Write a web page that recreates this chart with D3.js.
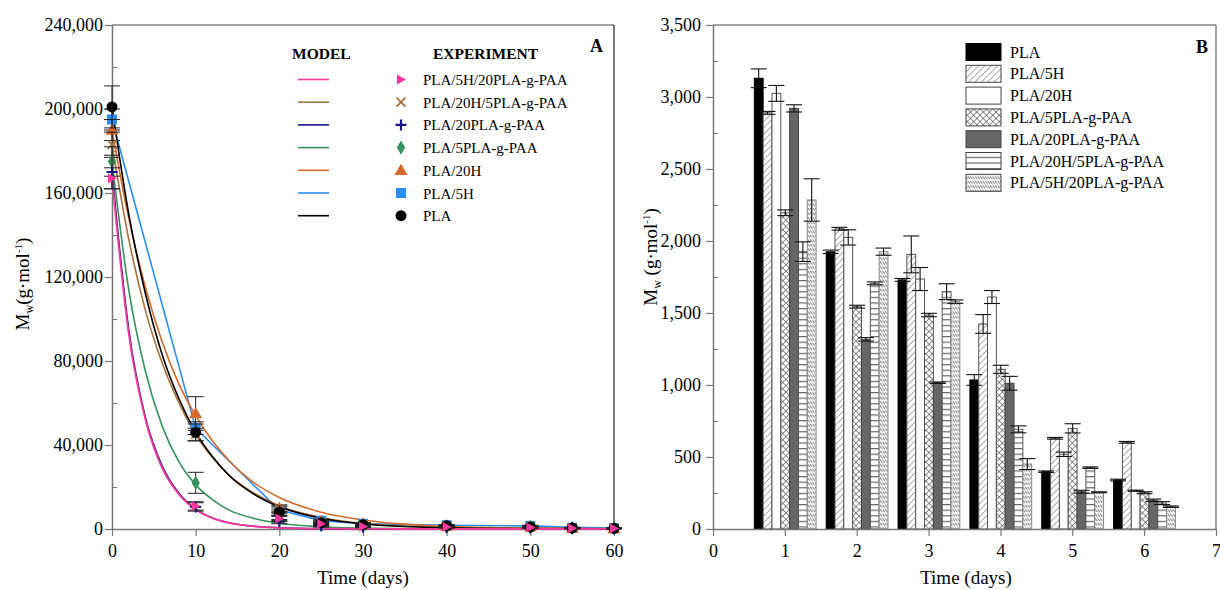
<!DOCTYPE html>
<html><head><meta charset="utf-8">
<script src="https://cdn.jsdelivr.net/npm/d3@7"></script>
<style>
body{margin:0;background:#fff;}
svg{font-family:"Liberation Serif","Times New Roman",serif;}
</style>
</head><body>
<svg id="c" width="1220" height="590"></svg>
<script>
// ================= Panel A data =================
const daysA = [0, 10, 20, 25, 30, 40, 50, 55, 60];
const xTicksA = [0, 10, 20, 30, 40, 50, 60];
const yTicksA = [0, 40000, 80000, 120000, 160000, 200000, 240000];
const yMinorA = [20000, 60000, 100000, 140000, 180000, 220000];

const expPLA      = [201000, 46000, 8000, 3000, 2000, 1500, 1000, 500, 300];
const errPLA      = [10000, 4000, 1500, 800, 500, 300, 300, 200, 100];
const exp5H       = [195000, 48000, 9000, 4000, 2500, 1800, 1500, 600, 400];
const err5H       = [5000, 3000, 1500, 800, 500, 300, 300, 200, 100];
const exp20H      = [190000, 55000, 10000, 3500, 2500, 1500, 1200, 500, 300];
const err20H      = [5000, 8000, 1500, 800, 500, 300, 300, 200, 100];
const exp5PLA     = [175000, 22000, 5000, 2000, 1500, 1000, 800, 400, 200];
const err5PLA     = [7000, 5000, 1000, 600, 400, 300, 300, 200, 100];
const exp20PLA    = [170000, 10500, 3500, 1500, 1000, 800, 600, 300, 200];
const err20PLA    = [8000, 2000, 1000, 600, 400, 300, 300, 200, 100];
const exp20H5PLA  = [183000, 45000, 9500, 3000, 2000, 1500, 1000, 500, 300];
const err20H5PLA  = [6000, 3000, 1500, 800, 500, 300, 300, 200, 100];
const exp5H20PLA  = [167000, 11000, 5000, 2500, 1200, 900, 700, 400, 200];
const err5H20PLA  = [5000, 2000, 1500, 800, 400, 300, 300, 200, 100];

// model curves
const modelDays      = [0, 2, 4, 6, 8, 10, 12, 14, 17, 20, 25, 30, 35, 40, 50, 60];
const modelPLA       = [201000, 150000, 112000, 83000, 62000, 46000, 34500, 25500, 16500, 10600, 5100, 2400, 1200, 600, 200, 100];
const model20H       = [190000, 148000, 115000, 89000, 69000, 54000, 42000, 32500, 22000, 15000, 8000, 4300, 2300, 1300, 400, 150];
const model20H5PLA   = [183000, 138000, 104000, 79000, 60000, 45000, 34000, 25500, 17000, 11000, 5500, 2700, 1300, 700, 200, 100];
const model5PLA      = [175000, 114000, 75000, 49000, 32000, 21000, 14000, 9000, 5000, 2700, 1000, 400, 200, 100, 50, 0];
const model20PLA     = [170000, 95000, 53000, 30000, 17000, 9500, 5300, 3000, 1300, 600, 150, 50, 0, 0, 0, 0];
const model5H20PLA   = [167000, 93000, 52000, 29000, 16500, 9300, 5200, 2900, 1250, 550, 150, 50, 0, 0, 0, 0];
const model5HDays    = [0, 10, 20, 25, 30, 40, 50, 55, 60];
const model5H        = [195000, 48000, 9000, 4000, 2500, 1800, 1500, 800, 400];

// ================= Panel B data =================
const daysB = [1, 2, 3, 4, 5, 6];
const xTicksB = [0, 1, 2, 3, 4, 5, 6, 7];
const yTicksB = [0, 500, 1000, 1500, 2000, 2500, 3000, 3500];
const yMinorB = [250, 750, 1250, 1750, 2250, 2750, 3250];
const seriesB = ["PLA", "PLA/5H", "PLA/20H", "PLA/5PLA-g-PAA", "PLA/20PLA-g-PAA", "PLA/20H/5PLA-g-PAA", "PLA/5H/20PLA-g-PAA"];
const barPLA      = [3130, 1925, 1730, 1035, 398, 340];
const barErrPLA   = [65, 12, 10, 37, 5, 6];
const bar5H       = [2890, 2085, 1907, 1424, 630, 602];
const barErr5H    = [10, 10, 128, 65, 6, 6];
const bar20H      = [3025, 2025, 1736, 1611, 519, 266];
const barErr20H   = [55, 53, 80, 45, 15, 4];
const bar5PLA     = [2196, 1544, 1486, 1109, 699, 252];
const barErr5PLA  = [20, 10, 12, 28, 32, 7];
const bar20PLA    = [2921, 1317, 1016, 1012, 259, 200];
const barErr20PLA = [25, 12, 5, 48, 10, 8];
const bar20H5PLA  = [1926, 1706, 1648, 692, 426, 180];
const barErr20H5PLA = [68, 10, 55, 24, 5, 10];
const bar5H20PLA  = [2285, 1926, 1579, 451, 255, 155];
const barErr5H20PLA = [147, 25, 12, 38, 3, 5];

// ================= drawing =================
const svg = d3.select("#c");
const FONT = "'Liberation Serif','Times New Roman',serif";
const axisCol = "#777";

const defs = svg.append("defs");
function pat(id, w, h, rot, draw) {
  const p = defs.append("pattern").attr("id", id).attr("patternUnits", "userSpaceOnUse")
    .attr("width", w).attr("height", h);
  if (rot) p.attr("patternTransform", `rotate(${rot})`);
  p.append("rect").attr("width", w).attr("height", h).attr("fill", "#fff");
  draw(p);
}
pat("hatch", 4.5, 4.5, 45, p => p.append("line").attr("x1", 0).attr("y1", 0).attr("x2", 0).attr("y2", 4.5).attr("stroke", "#666").attr("stroke-width", 1.1));
pat("cross", 4.5, 4.5, 45, p => {
  p.append("line").attr("x1", 0).attr("y1", 0).attr("x2", 0).attr("y2", 4.5).attr("stroke", "#555").attr("stroke-width", 1.3);
  p.append("line").attr("x1", 0).attr("y1", 0).attr("x2", 4.5).attr("y2", 0).attr("stroke", "#555").attr("stroke-width", 1.3);
});
pat("horiz", 4, 5.6, 0, p => p.append("line").attr("x1", 0).attr("y1", 0.6).attr("x2", 4).attr("y2", 0.6).attr("stroke", "#666").attr("stroke-width", 1.2));
pat("wavy", 5, 4.5, 0, p => p.append("path").attr("d", "M0,1 C1,1 1.5,3.5 2.5,3.5 M2.5,1 C3.5,1 4,3.5 5,3.5").attr("fill", "none").attr("stroke", "#777").attr("stroke-width", 1));

const styleB = {
  "PLA": {fill: "#000", stroke: "#000"},
  "PLA/5H": {fill: "url(#hatch)", stroke: "#555"},
  "PLA/20H": {fill: "#fff", stroke: "#555"},
  "PLA/5PLA-g-PAA": {fill: "url(#cross)", stroke: "#555"},
  "PLA/20PLA-g-PAA": {fill: "#666", stroke: "#444"},
  "PLA/20H/5PLA-g-PAA": {fill: "url(#horiz)", stroke: "#555"},
  "PLA/5H/20PLA-g-PAA": {fill: "url(#wavy)", stroke: "#888"}
};

// ---------- Panel A ----------
const xA = d3.scaleLinear().domain([0, 60]).range([112, 614]);
const yA = d3.scaleLinear().domain([0, 240000]).range([529, 25]);

function styleAxis(g) {
  g.select(".domain").attr("stroke", axisCol).attr("stroke-width", 1.5);
  g.selectAll(".tick line").attr("stroke", axisCol).attr("stroke-width", 1.2);
  g.selectAll(".tick text").attr("fill", "#000").attr("font-size", 18).attr("font-family", FONT);
}

// frame
svg.append("line").attr("x1", xA(0)).attr("x2", xA(60)).attr("y1", yA(240000)).attr("y2", yA(240000)).attr("stroke", "#444").attr("stroke-width", 1);
svg.append("line").attr("x1", xA(60)).attr("x2", xA(60)).attr("y1", yA(240000)).attr("y2", yA(0)).attr("stroke", "#222").attr("stroke-width", 1.2);

const gAy = svg.append("g").attr("transform", `translate(${xA(0)},0)`)
  .call(d3.axisLeft(yA).tickValues(yTicksA).tickFormat(d3.format(",")).tickSize(7).tickSizeOuter(0).tickPadding(2));
styleAxis(gAy);
const gAym = svg.append("g").attr("transform", `translate(${xA(0)},0)`)
  .call(d3.axisRight(yA).tickValues(yMinorA).tickFormat("").tickSize(5).tickSizeOuter(0));
gAym.select(".domain").remove(); gAym.selectAll("line").attr("stroke", axisCol);
const gAx = svg.append("g").attr("transform", `translate(0,${yA(0)})`)
  .call(d3.axisBottom(xA).tickValues(xTicksA).tickFormat(d3.format("d")).tickSize(7).tickSizeOuter(0).tickPadding(8));
styleAxis(gAx);

const colors = {
  "PLA/5H/20PLA-g-PAA": "#f5399a",
  "PLA/20H/5PLA-g-PAA": "#a8703e",
  "PLA/20PLA-g-PAA": "#16168c",
  "PLA/5PLA-g-PAA": "#33925e",
  "PLA/20H": "#d46a2c",
  "PLA/5H": "#2a8df2",
  "PLA": "#000"
};
const seriesA = [
  {name: "PLA/5H", exp: exp5H, err: err5H, mx: model5HDays, my: model5H, sym: "square"},
  {name: "PLA/20H", exp: exp20H, err: err20H, mx: modelDays, my: model20H, sym: "tri"},
  {name: "PLA/20H/5PLA-g-PAA", exp: exp20H5PLA, err: err20H5PLA, mx: modelDays, my: model20H5PLA, sym: "x"},
  {name: "PLA/5PLA-g-PAA", exp: exp5PLA, err: err5PLA, mx: modelDays, my: model5PLA, sym: "diamond"},
  {name: "PLA/20PLA-g-PAA", exp: exp20PLA, err: err20PLA, mx: modelDays, my: model20PLA, sym: "plus"},
  {name: "PLA", exp: expPLA, err: errPLA, mx: modelDays, my: modelPLA, sym: "circle"},
  {name: "PLA/5H/20PLA-g-PAA", exp: exp5H20PLA, err: err5H20PLA, mx: modelDays, my: model5H20PLA, sym: "rtri"}
];

function drawSym(g, sym, x, y, col) {
  switch (sym) {
    case "square": g.append("rect").attr("x", x - 5).attr("y", y - 5).attr("width", 10).attr("height", 10).attr("fill", col); break;
    case "circle": g.append("circle").attr("cx", x).attr("cy", y).attr("r", 5.5).attr("fill", col); break;
    case "tri": g.append("path").attr("d", d3.symbol(d3.symbolTriangle, 75)()).attr("transform", `translate(${x},${y + 1})`).attr("fill", col); break;
    case "diamond": g.append("path").attr("d", d3.symbol(d3.symbolDiamond, 60)()).attr("transform", `translate(${x},${y})`).attr("fill", col); break;
    case "rtri": g.append("path").attr("d", "M-4,-5L5,0L-4,5Z").attr("transform", `translate(${x},${y})`).attr("fill", col); break;
    case "plus": g.append("path").attr("d", "M-5.5,0H5.5M0,-5.5V5.5").attr("transform", `translate(${x},${y})`).attr("stroke", col).attr("stroke-width", 2.2).attr("fill", "none"); break;
    case "x": g.append("path").attr("d", "M-4.5,-4.5L4.5,4.5M-4.5,4.5L4.5,-4.5").attr("transform", `translate(${x},${y})`).attr("stroke", col).attr("stroke-width", 1.7).attr("fill", "none"); break;
  }
}

const plotA = svg.append("g");
// model lines
const lineOrder = ["PLA/5H", "PLA/20H", "PLA/5PLA-g-PAA", "PLA/20PLA-g-PAA", "PLA/20H/5PLA-g-PAA", "PLA", "PLA/5H/20PLA-g-PAA"];
lineOrder.forEach(n => {
  const s = seriesA.find(d => d.name === n);
  const pts = s.mx.map((d, i) => [d, s.my[i]]);
  const line = d3.line().x(d => xA(d[0])).y(d => yA(d[1]))
    .curve(n === "PLA/5H" ? d3.curveLinear : d3.curveMonotoneX);
  plotA.append("path").attr("d", line(pts)).attr("fill", "none").attr("stroke", colors[n])
    .attr("stroke-width", n === "PLA/5H/20PLA-g-PAA" ? 1.8 : 1.6);
});
// markers + error bars
seriesA.forEach(s => {
  const g = plotA.append("g");
  daysA.forEach((d, i) => {
    const x = xA(d), v = s.exp[i], e = s.err[i];
    const y1 = yA(v + e), y2 = yA(Math.max(0, v - e));
    g.append("line").attr("x1", x).attr("x2", x).attr("y1", y1).attr("y2", y2).attr("stroke", "#222").attr("stroke-width", 1);
    g.append("line").attr("x1", x - 8).attr("x2", x + 8).attr("y1", y1).attr("y2", y1).attr("stroke", "#222").attr("stroke-width", 1);
    g.append("line").attr("x1", x - 8).attr("x2", x + 8).attr("y1", y2).attr("y2", y2).attr("stroke", "#222").attr("stroke-width", 1);
    drawSym(g, s.sym, x, yA(v), colors[s.name]);
  });
});

// legend A
svg.append("text").attr("x", 292).attr("y", 59).attr("font-size", 15.5).attr("font-weight", "bold").text("MODEL");
svg.append("text").attr("x", 433).attr("y", 59).attr("font-size", 15.5).attr("font-weight", "bold").text("EXPERIMENT");
svg.append("text").attr("x", 590).attr("y", 52).attr("font-size", 18).attr("font-weight", "bold").text("A");
const legendA = ["PLA/5H/20PLA-g-PAA", "PLA/20H/5PLA-g-PAA", "PLA/20PLA-g-PAA", "PLA/5PLA-g-PAA", "PLA/20H", "PLA/5H", "PLA"];
legendA.forEach((n, i) => {
  const y = 79.5 + i * 22.7;
  const s = seriesA.find(d => d.name === n);
  svg.append("line").attr("x1", 298).attr("x2", 329).attr("y1", y).attr("y2", y).attr("stroke", colors[n]).attr("stroke-width", 1.6);
  drawSym(svg, s.sym, 401, y, colors[n]);
  svg.append("text").attr("x", 423).attr("y", y + 5.5).attr("font-size", 15).text(n);
});

// axis titles A
function mwTitle(x, y, spaced) {
  const t = svg.append("text").attr("transform", `translate(${x},${y}) rotate(-90)`).attr("text-anchor", "middle").attr("font-size", 19);
  t.append("tspan").text("M");
  t.append("tspan").attr("font-size", 12).attr("dy", 4).text("w");
  t.append("tspan").attr("dy", -4).text((spaced ? " " : "") + "(g·mol");
  t.append("tspan").attr("font-size", 11).attr("dy", -7).text("-1");
  t.append("tspan").attr("dy", 7).text(")");
}
mwTitle(29, 284, false);
svg.append("text").attr("x", 363).attr("y", 584).attr("text-anchor", "middle").attr("font-size", 19).text("Time (days)");

// ---------- Panel B ----------
const xB = d3.scaleLinear().domain([0, 7]).range([713, 1216]);
const yB = d3.scaleLinear().domain([0, 3500]).range([529, 25]);

svg.append("line").attr("x1", xB(0)).attr("x2", xB(7)).attr("y1", yB(3500)).attr("y2", yB(3500)).attr("stroke", "#444").attr("stroke-width", 1);
svg.append("line").attr("x1", xB(7)).attr("x2", xB(7)).attr("y1", yB(3500)).attr("y2", yB(0)).attr("stroke", "#444").attr("stroke-width", 1);

const barData = {
  "PLA": [barPLA, barErrPLA],
  "PLA/5H": [bar5H, barErr5H],
  "PLA/20H": [bar20H, barErr20H],
  "PLA/5PLA-g-PAA": [bar5PLA, barErr5PLA],
  "PLA/20PLA-g-PAA": [bar20PLA, barErr20PLA],
  "PLA/20H/5PLA-g-PAA": [bar20H5PLA, barErr20H5PLA],
  "PLA/5H/20PLA-g-PAA": [bar5H20PLA, barErr5H20PLA]
};
const inner = d3.scaleBand().domain(seriesB).range([-0.425, 0.435]).padding(0);
const plotB = svg.append("g");
const errB = svg.append("g");
daysB.forEach((day, i) => {
  seriesB.forEach(n => {
    const [vals, errs] = barData[n];
    const x0 = xB(day + inner(n)), x1 = xB(day + inner(n) + inner.bandwidth());
    const v = vals[i], e = errs[i];
    plotB.append("rect").attr("x", x0).attr("y", yB(v)).attr("width", x1 - x0).attr("height", yB(0) - yB(v))
      .attr("fill", styleB[n].fill).attr("stroke", styleB[n].stroke).attr("stroke-width", 1);
    const cx = (x0 + x1) / 2, ya = yB(v + e), yb = yB(v - e);
    errB.append("line").attr("x1", cx).attr("x2", cx).attr("y1", ya).attr("y2", yb).attr("stroke", "#111").attr("stroke-width", 1.1);
    errB.append("line").attr("x1", cx - 8).attr("x2", cx + 8).attr("y1", ya).attr("y2", ya).attr("stroke", "#111").attr("stroke-width", 1.1);
    errB.append("line").attr("x1", cx - 8).attr("x2", cx + 8).attr("y1", yb).attr("y2", yb).attr("stroke", "#111").attr("stroke-width", 1.1);
  });
});

const gBy = svg.append("g").attr("transform", `translate(${xB(0)},0)`)
  .call(d3.axisLeft(yB).tickValues(yTicksB).tickFormat(d3.format(",")).tickSize(7).tickSizeOuter(0).tickPadding(5));
styleAxis(gBy);
const gBym = svg.append("g").attr("transform", `translate(${xB(0)},0)`)
  .call(d3.axisRight(yB).tickValues(yMinorB).tickFormat("").tickSize(5).tickSizeOuter(0));
gBym.select(".domain").remove(); gBym.selectAll("line").attr("stroke", axisCol);
const gBx = svg.append("g").attr("transform", `translate(0,${yB(0)})`)
  .call(d3.axisBottom(xB).tickValues(xTicksB).tickFormat(d3.format("d")).tickSize(7).tickSizeOuter(0).tickPadding(8));
styleAxis(gBx);

mwTitle(657, 257, true);
svg.append("text").attr("x", 966).attr("y", 584).attr("text-anchor", "middle").attr("font-size", 19).text("Time (days)");

// legend B
svg.append("text").attr("x", 1196).attr("y", 53).attr("font-size", 18).attr("font-weight", "bold").text("B");
seriesB.forEach((n, i) => {
  const y = 52 + i * 21.8;
  svg.append("rect").attr("x", 966).attr("y", y - 8.5).attr("width", 35).attr("height", 17)
    .attr("fill", styleB[n].fill).attr("stroke", n === "PLA" ? "#000" : "#444").attr("stroke-width", 1);
  svg.append("text").attr("x", 1010).attr("y", y + 5.5).attr("font-size", 16).text(n);
});
</script>
</body></html>
